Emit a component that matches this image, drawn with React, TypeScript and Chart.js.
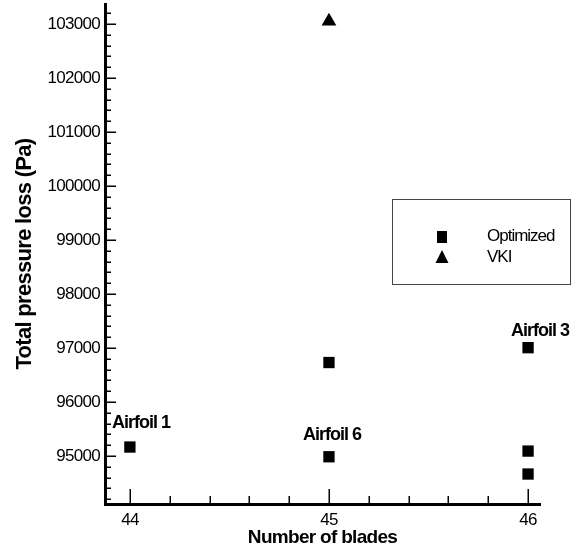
import { useEffect, useRef } from 'react';
import { Chart, registerables } from 'chart.js';

Chart.register(...registerables);

// ---- data ----
const seriesNames = ['Optimized', 'VKI'];
const optimizedBlades = [44, 45, 45, 46, 46, 46];
const optimizedLoss = [95165, 96730, 94985, 97005, 95090, 94665];
const vkiBlades = [45];
const vkiLoss = [103050];
const xTickValues = [44, 45, 46];
const yTickValues = [95000, 96000, 97000, 98000, 99000, 100000, 101000, 102000, 103000];
const airfoilNames = ['Airfoil 1', 'Airfoil 6', 'Airfoil 3'];
const airfoilPointIndex = [0, 2, 3];
const xTitle = 'Number of blades';
const yTitle = 'Total pressure loss (Pa)';

// ---- style ----
const FONT = "'Liberation Sans', Arial, Helvetica, sans-serif";
const labelOffsets = [
  [11, -24],
  [3, -22],
  [12, -17],
];

const minorTicksPlugin = {
  id: 'minorTicks',
  beforeDraw(chart: any) {
    (chart.ctx as any).letterSpacing = '-0.7px';
  },
  afterDraw(chart: any) {
    const { ctx, chartArea, scales } = chart;
    const x = scales.x;
    const y = scales.y;
    ctx.save();
    ctx.strokeStyle = '#000';
    ctx.lineWidth = 1.5;
    // y minor/major ticks (inward)
    for (let k = 0; k <= 60; k++) {
      const v = 94000 + k * 200;
      if (v < y.min || v > y.max) continue;
      const py = Math.round(y.getPixelForValue(v)) + 0.25;
      const len = v % 1000 === 0 ? 11 : 6;
      ctx.beginPath();
      ctx.moveTo(chartArea.left, py);
      ctx.lineTo(chartArea.left + len, py);
      ctx.stroke();
    }
    // x minor/major ticks (inward)
    for (let k = 0; k <= 10; k++) {
      const v = 44 + k * 0.2;
      const px = Math.round(x.getPixelForValue(v)) + 0.25;
      const len = k % 5 === 0 ? 15 : 8;
      ctx.beginPath();
      ctx.moveTo(px, chartArea.bottom);
      ctx.lineTo(px, chartArea.bottom - len);
      ctx.stroke();
    }

    // airfoil labels
    (ctx as any).letterSpacing = '-1px';
    ctx.fillStyle = '#000';
    ctx.font = `bold 18px ${FONT}`;
    ctx.textAlign = 'center';
    ctx.textBaseline = 'middle';
    airfoilNames.forEach((name, i) => {
      const idx = airfoilPointIndex[i];
      const px = x.getPixelForValue(optimizedBlades[idx]) + labelOffsets[i][0];
      const py = y.getPixelForValue(optimizedLoss[idx]) + labelOffsets[i][1];
      ctx.fillText(name, px, py);
    });

    // legend box
    (ctx as any).letterSpacing = '-1px';
    ctx.strokeStyle = '#444';
    ctx.lineWidth = 1;
    ctx.strokeRect(392.5, 199.5, 178, 85);
    // square marker
    ctx.fillStyle = '#000';
    ctx.fillRect(437, 231, 10, 12);
    // triangle marker
    ctx.beginPath();
    ctx.moveTo(442, 250);
    ctx.lineTo(448.5, 263);
    ctx.lineTo(435.5, 263);
    ctx.closePath();
    ctx.fill();
    ctx.font = `17px ${FONT}`;
    ctx.textAlign = 'left';
    ctx.textBaseline = 'middle';
    ctx.fillText(seriesNames[0], 487, 236);
    ctx.fillText(seriesNames[1], 487, 257);
    ctx.restore();
  },
};

export default function App() {
  const canvasRef = useRef<HTMLCanvasElement | null>(null);

  useEffect(() => {
    if (!canvasRef.current) return;
    const chart = new Chart(canvasRef.current, {
      type: 'scatter',
      data: {
        datasets: [
          {
            label: seriesNames[0],
            data: optimizedBlades.map((b, i) => ({ x: b, y: optimizedLoss[i] })),
            pointStyle: 'rect',
            pointRadius: 8,
            backgroundColor: '#000',
            borderColor: '#000',
            borderWidth: 0,
          },
          {
            label: seriesNames[1],
            data: vkiBlades.map((b, i) => ({ x: b, y: vkiLoss[i] })),
            pointStyle: 'triangle',
            pointRadius: 8.5,
            backgroundColor: '#000',
            borderColor: '#000',
            borderWidth: 0,
          },
        ],
      },
      options: {
        responsive: false,
        animation: false,
        events: [],
        layout: { autoPadding: false, padding: { top: 4, right: 39, left: 0, bottom: 0 } },
        plugins: {
          legend: { display: false },
          tooltip: { enabled: false },
        },
        scales: {
          x: {
            type: 'linear',
            position: 'bottom',
            min: 43.875,
            max: 46.06,
            afterBuildTicks: (s: any) => {
              s.ticks = xTickValues.map((v) => ({ value: v }));
            },
            afterFit: (s: any) => {
              s.height = 49;
              s.paddingLeft = 0;
              s.paddingRight = 0;
            },
            grid: { display: true, drawOnChartArea: false, drawTicks: false },
            border: { display: true, width: 3, color: '#000' },
            ticks: {
              padding: 6,
              color: '#000',
              font: { family: FONT, size: 17 },
              callback: (v: any) => String(v),
            },
            title: {
              display: true,
              text: xTitle,
              color: '#000',
              font: { family: FONT, size: 19, weight: 'bold', lineHeight: 1 },
              padding: { top: 0, bottom: 6 },
            },
          },
          y: {
            type: 'linear',
            position: 'left',
            min: 94110,
            max: 103370,
            afterBuildTicks: (s: any) => {
              s.ticks = yTickValues.map((v) => ({ value: v }));
            },
            afterFit: (s: any) => {
              s.width = 105;
              s.paddingTop = 0;
              s.paddingBottom = 0;
            },
            grid: { display: true, drawOnChartArea: false, drawTicks: false },
            border: { display: true, width: 3, color: '#000' },
            ticks: {
              padding: 5,
              color: '#000',
              font: { family: FONT, size: 17 },
              callback: (v: any) => String(v),
            },
            title: {
              display: true,
              text: yTitle,
              color: '#000',
              font: { family: FONT, size: 22, weight: 'bold', lineHeight: 1 },
              padding: { top: 14, bottom: 0 },
            },
          },
        },
      },
      plugins: [minorTicksPlugin],
    } as any);
    return () => chart.destroy();
  }, []);

  return (
    <div style={{ position: 'fixed', left: 0, top: 0, width: 579, height: 553, background: '#fff' }}>
      <canvas ref={canvasRef} width={579} height={553} style={{ display: 'block' }} />
    </div>
  );
}
